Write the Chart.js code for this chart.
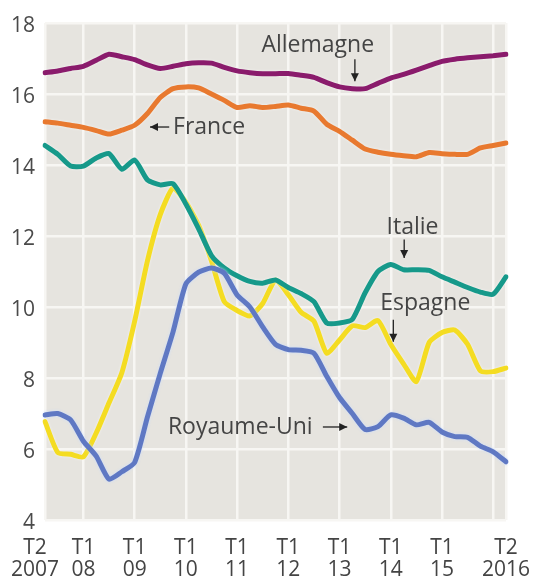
<!DOCTYPE html>
<html lang="fr">
<head>
    <meta charset="UTF-8">
    <title>Taux de chômage</title>
    <script src="https://cdn.jsdelivr.net/npm/chart.js"></script>
    <style>
        html, body { margin: 0; padding: 0; background: #ffffff; }
        .chart-box { width: 538px; height: 581px; }
    </style>
</head>
<body>
    <div class="chart-box">
        <canvas id="chomageChart" width="538" height="581"></canvas>
    </div>
    <script>
        // quarters T2 2007 .. T2 2016
        const quarters = [
            '2007T2', '2007T3', '2007T4',
            '2008T1', '2008T2', '2008T3', '2008T4',
            '2009T1', '2009T2', '2009T3', '2009T4',
            '2010T1', '2010T2', '2010T3', '2010T4',
            '2011T1', '2011T2', '2011T3', '2011T4',
            '2012T1', '2012T2', '2012T3', '2012T4',
            '2013T1', '2013T2', '2013T3', '2013T4',
            '2014T1', '2014T2', '2014T3', '2014T4',
            '2015T1', '2015T2', '2015T3', '2015T4',
            '2016T1', '2016T2'
        ];

        // axis labels shown under the chart
        const tickLabels = {
            '2007T2': ['T2', '2007'],
            '2008T1': ['T1', '08'],
            '2009T1': ['T1', '09'],
            '2010T1': ['T1', '10'],
            '2011T1': ['T1', '11'],
            '2012T1': ['T1', '12'],
            '2013T1': ['T1', '13'],
            '2014T1': ['T1', '14'],
            '2015T1': ['T1', '15'],
            '2016T2': ['T2', '2016']
        };
        const gridQuarters = ['2007T2', '2008T1', '2009T1', '2010T1', '2011T1', '2012T1',
            '2013T1', '2014T1', '2015T1', '2016T1', '2016T2'];

        const allemagne = [16.6, 16.65, 16.72, 16.78, 16.95, 17.12, 17.05, 16.97, 16.82, 16.72,
            16.78, 16.85, 16.88, 16.87, 16.75, 16.65, 16.6, 16.57, 16.57, 16.58,
            16.53, 16.47, 16.32, 16.2, 16.15, 16.15, 16.3, 16.45, 16.55, 16.67,
            16.8, 16.92, 16.98, 17.02, 17.05, 17.08, 17.12];
        const france = [15.22, 15.18, 15.12, 15.06, 14.97, 14.87, 14.98, 15.12, 15.45, 15.9,
            16.15, 16.2, 16.17, 16.0, 15.82, 15.62, 15.67, 15.62, 15.65, 15.69,
            15.6, 15.52, 15.15, 14.95, 14.7, 14.45, 14.36, 14.3, 14.26, 14.23,
            14.35, 14.32, 14.3, 14.3, 14.48, 14.55, 14.62];
        const italie = [14.55, 14.3, 13.97, 13.97, 14.2, 14.32, 13.88, 14.14, 13.58, 13.44,
            13.47, 12.9, 12.2, 11.45, 11.1, 10.88, 10.72, 10.67, 10.76, 10.55,
            10.38, 10.15, 9.55, 9.55, 9.65, 10.4, 11.0, 11.2, 11.05, 11.05,
            11.03, 10.85, 10.7, 10.55, 10.42, 10.36, 10.85];
        const espagne = [6.77, 5.9, 5.85, 5.78, 6.45, 7.3, 8.15, 9.6, 11.3, 12.6,
            13.35, 12.95, 12.3, 11.3, 10.15, 9.9, 9.75, 10.1, 10.76, 10.35,
            9.85, 9.6, 8.7, 9.07, 9.47, 9.42, 9.62, 8.95, 8.4, 7.9,
            9.0, 9.28, 9.35, 8.95, 8.2, 8.18, 8.28];
        const royaumeUni = [6.96, 7.0, 6.82, 6.22, 5.8, 5.15, 5.36, 5.62, 6.9, 8.13,
            9.3, 10.65, 10.98, 11.1, 10.95, 10.34, 10.0, 9.44, 8.95, 8.8,
            8.78, 8.7, 8.05, 7.45, 7.0, 6.55, 6.63, 6.96, 6.87, 6.68,
            6.75, 6.48, 6.35, 6.33, 6.08, 5.92, 5.64];

        const yTicks = [4, 6, 8, 10, 12, 14, 16, 18];

        const FONT = '"Open Sans", "Noto Sans", sans-serif';
        const TEXT = '#444444';

        // series labels with their arrows, placed in data units (quarter index, value)
        const notes = [
            { text: 'Allemagne', x: 21.3, y: 17.38, align: 'center', arrow: [24.2, 16.98, 24.2, 16.36] },
            { text: 'France', x: 10.0, y: 15.07, align: 'left', arrow: [9.7, 15.07, 8.2, 15.07] },
            { text: 'Italie', x: 28.7, y: 12.25, align: 'center', arrow: [28.05, 11.9, 28.05, 11.38] },
            { text: 'Espagne', x: 29.7, y: 10.11, align: 'center', arrow: [27.2, 9.64, 27.2, 9.02] },
            { text: 'Royaume-Uni', x: 20.9, y: 6.62, align: 'right', arrow: [21.7, 6.62, 23.6, 6.62] }
        ];

        const plotBackground = {
            id: 'plotBackground',
            beforeDraw(chart) {
                const a = chart.chartArea;
                const c = chart.ctx;
                c.save();
                c.fillStyle = '#e6e4df';
                c.fillRect(a.left, a.top, a.right - a.left, a.bottom - a.top);
                c.restore();
            }
        };

        const lineHalo = {
            id: 'lineHalo',
            beforeDatasetDraw(chart, args) {
                const c = chart.ctx;
                c.save();
                c.shadowColor = args.meta.dataset.options.borderColor === '#5f78c3' ? 'rgba(200,220,255,0.9)' : 'rgba(255,255,255,0.6)';
                c.shadowBlur = 3;
            },
            afterDatasetDraw(chart) {
                chart.ctx.restore();
            }
        };

        // x labels drawn by hand so the first one can sit a little left, as in the print
        const xLabels = {
            id: 'xLabels',
            afterDraw(chart) {
                const c = chart.ctx;
                const xs = chart.scales.x;
                const base = chart.chartArea.bottom;
                c.save();
                c.font = '21px ' + FONT;
                c.fillStyle = TEXT;
                c.textAlign = 'center';
                c.textBaseline = 'middle';
                quarters.forEach((q, i) => {
                    const lbl = tickLabels[q];
                    if (!lbl) return;
                    let px = xs.getPixelForValue(i);
                    if (i === 0) px -= 10;
                    c.fillText(lbl[0], px, base + 28);
                    c.fillText(lbl[1], px, base + 50);
                });
                c.restore();
            }
        };

        const seriesNotes = {
            id: 'seriesNotes',
            afterDatasetsDraw(chart) {
                const c = chart.ctx;
                const xs = chart.scales.x;
                const ys = chart.scales.y;
                c.save();
                c.font = '23px ' + FONT;
                c.strokeStyle = '#222';
                c.textBaseline = 'middle';
                notes.forEach(n => {
                    c.fillStyle = TEXT;
                    c.textAlign = n.align;
                    c.fillText(n.text, xs.getPixelForValue(n.x), ys.getPixelForValue(n.y));
                    const x1 = xs.getPixelForValue(n.arrow[0]);
                    const y1 = ys.getPixelForValue(n.arrow[1]);
                    const x2 = xs.getPixelForValue(n.arrow[2]);
                    const y2 = ys.getPixelForValue(n.arrow[3]);
                    const ang = Math.atan2(y2 - y1, x2 - x1);
                    c.lineWidth = 1.3;
                    c.beginPath();
                    c.moveTo(x1, y1);
                    c.lineTo(x2, y2);
                    c.stroke();
                    c.fillStyle = '#222';
                    c.beginPath();
                    c.moveTo(x2, y2);
                    c.lineTo(x2 - 8 * Math.cos(ang) + 4 * Math.sin(ang), y2 - 8 * Math.sin(ang) - 4 * Math.cos(ang));
                    c.lineTo(x2 - 8 * Math.cos(ang) - 4 * Math.sin(ang), y2 - 8 * Math.sin(ang) + 4 * Math.cos(ang));
                    c.closePath();
                    c.fill();
                });
                c.restore();
            }
        };

        function series(data, color) {
            return {
                data: data,
                borderColor: color,
                borderWidth: 5,
                pointRadius: 0,
                tension: 0.2,
                borderJoinStyle: 'round',
                borderCapStyle: 'round',
                fill: false
            };
        }

        const ctx = document.getElementById('chomageChart').getContext('2d');
        const chomageChart = new Chart(ctx, {
            type: 'line',
            data: {
                labels: quarters,
                datasets: [
                    series(allemagne, '#8a1b6c'),
                    series(france, '#e8792f'),
                    series(royaumeUni, '#5f78c3'),
                    series(italie, '#16998a'),
                    series(espagne, '#f4dc22')
                ]
            },
            options: {
                responsive: false,
                animation: false,
                layout: { padding: { left: 0, right: 32, top: 23, bottom: 0 } },
                plugins: {
                    legend: { display: false },
                    tooltip: { enabled: false }
                },
                scales: {
                    x: {
                        type: 'category',
                        offset: false,
                        border: { display: false },
                        grid: {
                            drawTicks: false,
                            lineWidth: 2.5,
                            color: (c) => gridQuarters.includes(quarters[c.index]) ? '#f7f6f3' : 'rgba(0,0,0,0)'
                        },
                        ticks: { display: false, autoSkip: false },
                        afterFit: (s) => { s.height = 61; }
                    },
                    y: {
                        min: 4,
                        max: 18,
                        border: { display: false },
                        afterBuildTicks: (s) => { s.ticks = yTicks.map(v => ({ value: v })); },
                        grid: { drawTicks: false, lineWidth: 2.5, color: '#f7f6f3' },
                        ticks: {
                            padding: 10,
                            labelOffset: 3,
                            color: '#4a4a4a',
                            font: { family: FONT, size: 21 }
                        },
                        afterFit: (s) => { s.width = 45; }
                    }
                }
            },
            plugins: [plotBackground, lineHalo, xLabels, seriesNotes]
        });
    </script>
</body>
</html>
